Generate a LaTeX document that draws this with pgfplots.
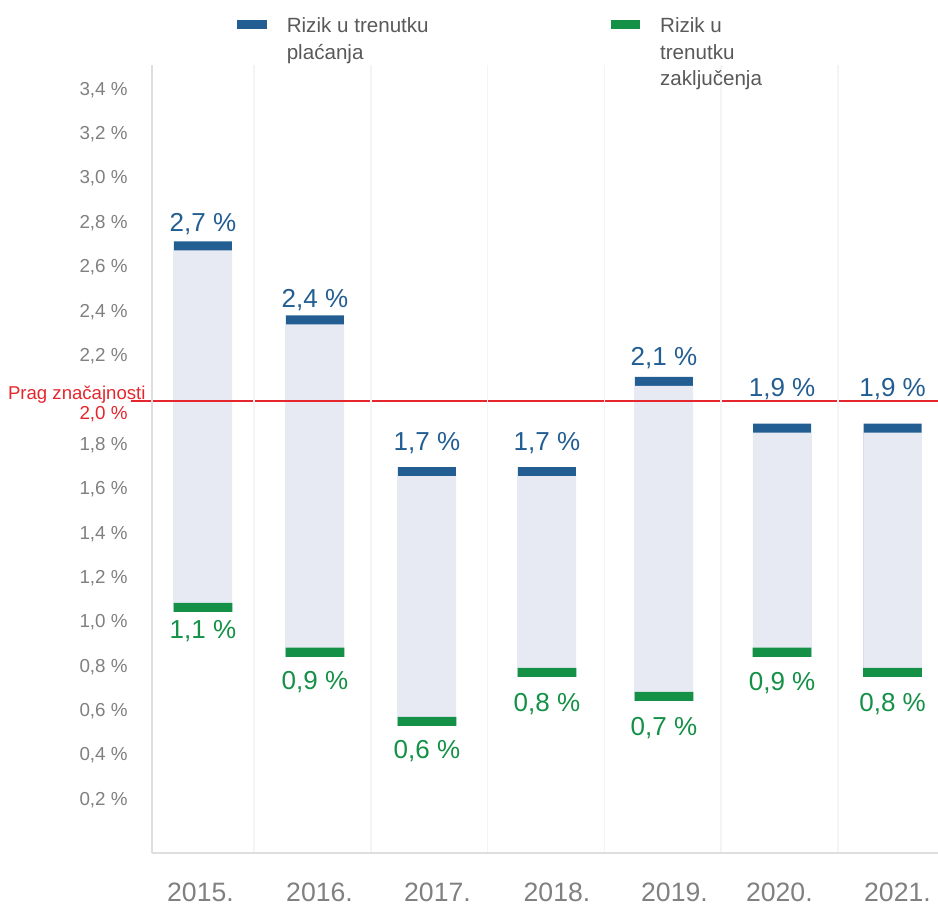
\documentclass[border=0pt]{standalone}
\usepackage{fontspec}
\setmainfont{Liberation Sans}
\usepackage{pgfplots}
\pgfplotsset{compat=1.18}
\usepackage{pgfplotstable}
\definecolor{cblue}{RGB}{35,94,147}
\definecolor{cgreen}{RGB}{20,145,70}
\definecolor{clav}{RGB}{231,234,243}
\definecolor{cred}{RGB}{229,38,45}
\definecolor{ctick}{RGB}{128,128,128}
\definecolor{clegend}{RGB}{89,89,89}
\definecolor{caxis}{RGB}{222,222,222}
\definecolor{cgrid}{RGB}{244,244,244}
% x = bar position (category index), b = upper value, g = lower value,
% lb / lg = baseline of the value labels
\pgfplotstableread{
x b g lb lg
0.063 2.697 1.068 2.761 0.926
1.022 2.363 0.866 2.420 0.696
1.981 1.680 0.554 1.777 0.388
3.008 1.680 0.775 1.777 0.598
4.010 2.086 0.667 2.156 0.490
5.021 1.876 0.866 2.018 0.693
5.967 1.876 0.775 2.018 0.598
}\datatable
\begin{document}
\begin{tikzpicture}
\begin{axis}[
  scale only axis, width=393pt, height=394pt,
  xmin=-0.373, xmax=6.356, ymin=-0.0388, ymax=3.512,
  axis x line*=bottom, axis y line*=left,
  axis line style={-, draw=caxis, line width=1pt},
  every outer x axis line/.append style={-},
  every outer y axis line/.append style={-},
  /pgf/number format/assume math mode=true,
  major tick length=0pt, minor tick length=0pt,
  xtick={0.042,1.061,2.071,3.094,4.100,4.998,6.009},
  xticklabels={2015.,2016.,2017.,2018.,2019.,2020.,2021.},
  minor xtick={0.5,1.5,2.5,3.5,4.5,5.5},
  xminorgrids=true,
  minor grid style={draw=cgrid, line width=0.75pt},
  xticklabel style={font=\fontsize{13.3}{15}\selectfont, text=ctick, anchor=base, inner sep=0pt, yshift=-24.3pt},
  ytick={0.2,0.4,0.6,0.8,1.0,1.2,1.4,1.6,1.8,2.2,2.4,2.6,2.8,3.0,3.2,3.4},
  yticklabel={\pgfmathprintnumber[fixed,fixed zerofill,precision=1,use comma]{\tick}~\%},
  yticklabel style={font=\fontsize{9.4}{11}\selectfont, text=ctick, inner sep=0pt, xshift=-12pt},
  extra y ticks={2},
  extra y tick style={ymajorgrids=false, yticklabel style={text=cred, yshift=-6.7pt}},
  axis on top,
  clip=false,
  legend columns=2,
  legend style={at={(rel axis cs:0.1081,1.0709)}, anchor=north west, draw=none, fill=none,
    inner sep=0pt, font=\fontsize{10.3}{13.4}\selectfont, text=clegend, column sep=0pt,
    /tikz/every odd column/.append style={column sep=8pt},
    /tikz/every even column/.append style={column sep=89pt},
    cells={anchor=base west, inner sep=0pt}},
]
\addlegendimage{legend image code/.code={\fill[cblue] (0pt,2.0pt) rectangle (14.3pt,5.9pt);}}
\addlegendentry{\begin{tabular}[t]{@{}l@{}}Rizik u trenutku\\plaćanja\end{tabular}}
\addlegendimage{legend image code/.code={\fill[cgreen] (0pt,2.0pt) rectangle (14.3pt,5.9pt);}}
\addlegendentry{\begin{tabular}[t]{@{}l@{}}Rizik u\\trenutku\\zaključenja\end{tabular}}

% layered bars: each covering layer is a hair wider to hide anti-aliased edges
\addplot[ybar, bar width=29pt, bar shift=0pt, fill=cblue, draw=none, forget plot]
  table[x=x, y expr=\thisrow{b}+0.0203] {\datatable};
\addplot[ybar, bar width=29.2pt, bar shift=0pt, fill=clav, draw=none, forget plot]
  table[x=x, y expr=\thisrow{b}-0.0203] {\datatable};
\addplot[ybar, bar width=29.4pt, bar shift=0pt, fill=cgreen, draw=none, forget plot]
  table[x=x, y expr=\thisrow{g}+0.0203] {\datatable};
\addplot[ybar, bar width=29.6pt, bar shift=0pt, fill=white, draw=white, line width=1.2pt, forget plot]
  table[x=x, y expr=\thisrow{g}-0.0203-0.0054] {\datatable};

\addplot[cred, line width=1pt, forget plot] coordinates {(-0.553,2) (6.356,2)};

\addplot[draw=none, mark=none, forget plot, point meta=explicit,
  nodes near coords={\pgfmathprintnumber[fixed,fixed zerofill,precision=1,use comma]{\pgfplotspointmeta}~\%},
  every node near coord/.append style={anchor=base, inner sep=0pt, text=cblue, font=\fontsize{13}{15}\selectfont}]
  table[x=x, y=lb, meta=b] {\datatable};
\addplot[draw=none, mark=none, forget plot, point meta=explicit,
  nodes near coords={\pgfmathprintnumber[fixed,fixed zerofill,precision=1,use comma]{\pgfplotspointmeta}~\%},
  every node near coord/.append style={anchor=base, inner sep=0pt, text=cgreen, font=\fontsize{13}{15}\selectfont}]
  table[x=x, y=lg, meta=g] {\datatable};

\node[anchor=base east, inner sep=0pt, text=cred, font=\fontsize{9.3}{11}\selectfont] at (axis cs:-0.425,2.003) {Prag značajnosti};

\coordinate (bbsw) at (rel axis cs:-0.1934,-0.066);
\coordinate (bbne) at (rel axis cs:1.0,1.0825);
\end{axis}
\pgfresetboundingbox
\useasboundingbox (bbsw) rectangle (bbne);
\end{tikzpicture}
\end{document}
